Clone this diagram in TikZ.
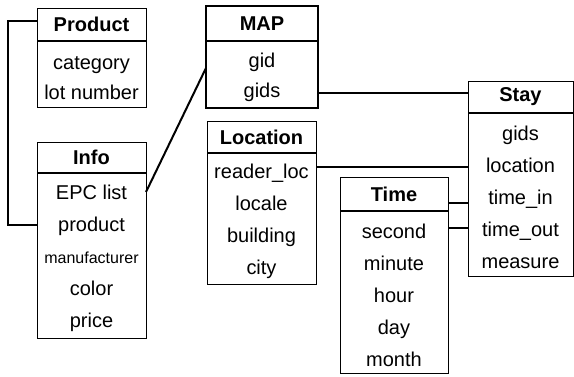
\documentclass[tikz,border=0pt]{standalone}
\usepackage{fontspec}
\setmainfont{Liberation Sans}
\usetikzlibrary{positioning}

% taller first line, pushes the attribute list a bit down
\newcommand{\rowstrut}{\rule{0pt}{21pt}}

\begin{document}
\begin{tikzpicture}[
        x=1pt, y=-1pt,
    % table title cell and attribute cell
        head/.style={rectangle, draw, line width=1pt, anchor=north west, inner sep=0pt, outer sep=0pt, font=\bfseries\fontsize{20}{24}\selectfont},
        body/.style={rectangle, draw, line width=1pt, align=center, inner sep=0pt, outer sep=0pt, font=\fontsize{20}{32}\selectfont},
        sep/.style={line width=2pt},
        link/.style={line width=2pt}
    ]
    \useasboundingbox (0,0) rectangle (574,376);

    % --- Product / Info ---
    \node[head, minimum width=109pt, minimum height=33pt] (product) at (37,8) {Product};
    \node[body, minimum width=109pt, minimum height=66pt, below=0pt of product, font=\fontsize{20}{30}\selectfont] (productbody) {\rowstrut category\\lot number};
    \draw[sep] (product.south west) -- (product.south east);

    \node[head, minimum width=109pt, minimum height=31pt] (info) at (37,142) {Info};
    \node[body, minimum width=109pt, minimum height=165pt, below=0pt of info] (infobody) {\rowstrut EPC list\\product\\{\fontsize{16}{32}\selectfont manufacturer}\\color\\price};
    \draw[sep] (info.south west) -- (info.south east);

    % --- MAP ---
    \node[head, line width=2pt, minimum width=112pt, minimum height=35pt] (map) at (206,6) {MAP};
    \node[body, line width=2pt, minimum width=112pt, minimum height=67pt, below=0pt of map, font=\fontsize{20}{30}\selectfont] (mapbody) {\rowstrut gid\\gids};

    % --- Location ---
    \node[head, minimum width=109pt, minimum height=32pt] (location) at (207,121) {Location};
    \node[body, minimum width=109pt, minimum height=131pt, below=0pt of location] (locationbody) {\rowstrut reader\_loc\\locale\\building\\city};
    \draw[sep] (location.south west) -- (location.south east);

    % --- Time ---
    \node[head, minimum width=108pt, minimum height=34pt] (time) at (340,177) {Time};
    \node[body, minimum width=108pt, minimum height=162pt, below=0pt of time] (timebody) {\rowstrut second\\minute\\hour\\day\\month};
    \draw[sep] (time.south west) -- (time.south east);

    % --- Stay ---
    \node[head, minimum width=105pt, minimum height=32pt] (stay) at (468,81) {Stay};
    \node[body, minimum width=105pt, minimum height=163pt, below=0pt of stay] (staybody) {\rowstrut gids\\location\\time\_in\\time\_out\\measure};
    \draw[sep] (stay.south west) -- (stay.south east);

    % --- links ---
    \coordinate (gidsend) at ([yshift=-18.5pt]mapbody.east);
    \coordinate (locend) at ([yshift=51.5pt]locationbody.east);
    \coordinate (timeinend) at ([yshift=-9pt]time.east);
    \coordinate (timeoutend) at ([yshift=64pt]timebody.east);

    \draw[link] ([yshift=3.5pt]product.west) -- ++(-29,0) |- ([yshift=30.5pt]infobody.west);
    \draw[link] ([yshift=63.5pt]infobody.east) -- ([yshift=6.5pt]mapbody.west);
    \draw[link] (gidsend) -- (gidsend -| stay.west);
    \draw[link] (locend) -- (locend -| staybody.west);
    \draw[link] (timeinend) -- (timeinend -| staybody.west);
    \draw[link] (timeoutend) -- (timeoutend -| staybody.west);
\end{tikzpicture}
\end{document}
